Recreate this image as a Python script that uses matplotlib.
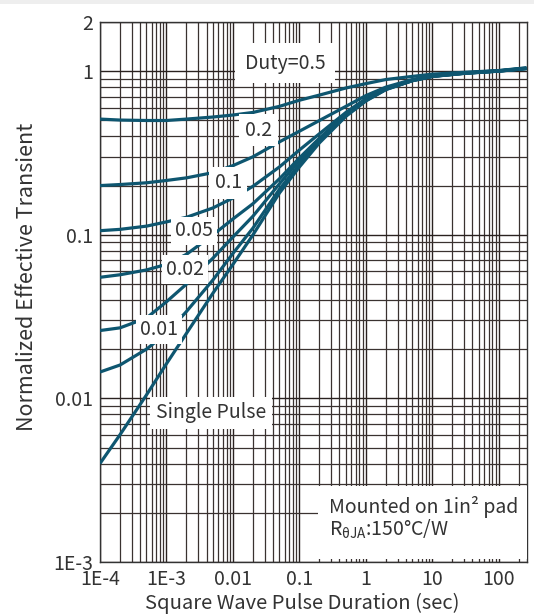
import matplotlib
matplotlib.use("Agg")
import matplotlib.pyplot as plt
from matplotlib.patches import Rectangle

plt.rcParams['font.family'] = ['Noto Sans CJK SC', 'DejaVu Sans']
plt.rcParams['mathtext.fontset'] = 'custom'
plt.rcParams['mathtext.rm'] = 'Noto Sans CJK SC'

# ---- data ----
pulse_time = [1e-4, 2e-4, 5e-4, 1e-3, 2e-3, 5e-3, 0.01, 0.02, 0.05, 0.1,
              0.2, 0.5, 1, 2, 5, 10, 30, 100, 260]

duty_05 = [0.51, 0.503, 0.50, 0.50, 0.51, 0.525, 0.54, 0.56, 0.61, 0.665,
           0.715, 0.79, 0.84, 0.89, 0.93, 0.96, 0.985, 1.01, 1.05]
duty_02 = [0.200, 0.203, 0.208, 0.215, 0.223, 0.240, 0.265, 0.30, 0.37, 0.43,
           0.50, 0.61, 0.71, 0.80, 0.89, 0.94, 0.978, 1.007, 1.046]
duty_01 = [0.106, 0.108, 0.113, 0.120, 0.128, 0.146, 0.168, 0.198, 0.26, 0.33,
           0.415, 0.56, 0.68, 0.785, 0.882, 0.935, 0.975, 1.005, 1.043]
duty_005 = [0.055, 0.057, 0.061, 0.066, 0.076, 0.100, 0.125, 0.155, 0.22, 0.295,
            0.39, 0.545, 0.67, 0.78, 0.878, 0.932, 0.973, 1.004, 1.041]
duty_002 = [0.026, 0.027, 0.031, 0.039, 0.050, 0.072, 0.097, 0.13, 0.205, 0.285,
            0.38, 0.54, 0.665, 0.777, 0.877, 0.931, 0.972, 1.003, 1.04]
duty_001 = [0.0145, 0.016, 0.020, 0.025, 0.034, 0.053, 0.077, 0.11, 0.19, 0.27,
            0.372, 0.535, 0.662, 0.775, 0.876, 0.93, 0.971, 1.002, 1.039]
single = [0.0040, 0.0060, 0.0105, 0.0163, 0.025, 0.044, 0.066, 0.10, 0.18, 0.26,
          0.365, 0.53, 0.658, 0.772, 0.875, 0.929, 0.97, 1.001, 1.038]

series = [duty_05, duty_02, duty_01, duty_005, duty_002, duty_001, single]

x_ticks = [1e-4, 1e-3, 0.01, 0.1, 1, 10, 100]
x_ticklabels = ['1E-4', '1E-3', '0.01', '0.1', '1', '10', '100']
y_ticks = [1e-3, 0.01, 0.1, 1, 2]
y_ticklabels = ['1E-3', '0.01', '0.1', '1', '2']

curve_labels = ['Duty=0.5', '0.2', '0.1', '0.05', '0.02', '0.01', 'Single Pulse']

# ---- figure ----
W, H = 534, 616
fig = plt.figure(figsize=(W / 100, H / 100), dpi=100)
fig.patches.append(Rectangle((0, 1 - 4 / H), 1, 4 / H, transform=fig.transFigure,
                             facecolor='#eeeeee', edgecolor='none'))
ax = fig.add_axes([100 / W, 1 - 562 / H, 427 / W, 540 / H])
ax.set_xscale('log')
ax.set_yscale('log')
ax.set_xlim(1e-4, 265)
ax.set_ylim(1e-3, 2)

ax.grid(True, which='major', color='#2a2220', linewidth=1.0)
ax.grid(True, which='minor', color='#3a3230', linewidth=0.9)
ax.set_axisbelow(True)

line_color = '#0e5670'
for s in series:
    ax.plot(pulse_time, s, color=line_color, linewidth=2.3, solid_capstyle='butt', zorder=3)

ax.set_xticks(x_ticks)
ax.set_xticklabels(x_ticklabels)
ax.set_yticks(y_ticks)
ax.set_yticklabels(y_ticklabels)
ax.minorticks_on()
ax.tick_params(which='both', length=0, labelsize=14, colors='#333333')
ax.tick_params(axis='x', pad=5)
ax.tick_params(axis='y', pad=5)
for lab in ax.get_xticklabels() + ax.get_yticklabels():
    lab.set_fontweight('light')
for sp in ax.spines.values():
    sp.set_color('#333333')
    sp.set_linewidth(1.0)

ax.set_xlabel('Square Wave Pulse Duration (sec)', fontsize=14.5, color='#333333',
              fontweight='light')
ax.set_ylabel('Normalized Effective Transient', fontsize=15.5, color='#333333',
              fontweight='light')
ax.xaxis.set_label_coords(0.473, -0.057)
ax.yaxis.set_label_coords(-0.145, 0.528)

# labels on curves (axes-fraction positions)
label_pos = [(0.433, 0.924), (0.372, 0.800), (0.300, 0.702), (0.220, 0.613),
             (0.199, 0.541), (0.138, 0.431), (0.260, 0.276)]
label_pad = [0.5, 0.3, 0.3, 0.2, 0.2, 0.2, 0.3]
for txt, (px, py), pd in zip(curve_labels, label_pos, label_pad):
    ax.text(px, py, txt, transform=ax.transAxes, ha='center', va='center',
            fontsize=14, color='#333333', fontweight='light', zorder=5,
            bbox=dict(boxstyle='square,pad=%g' % pd, facecolor='white', edgecolor='none'))

# mounting note
ax.add_patch(Rectangle((0.51, 0.005), 0.49, 0.135, transform=ax.transAxes,
                       facecolor='white', edgecolor='none', zorder=4))
ax.text(0.537, 0.101, 'Mounted on 1in² pad', transform=ax.transAxes, ha='left',
        va='center', fontsize=14, color='#333333', fontweight='light', zorder=5)
ax.text(0.537, 0.060, r'R$_{\mathrm{θJA}}$:150°C/W', transform=ax.transAxes, ha='left',
        va='center', fontsize=14, color='#333333', fontweight='light', zorder=5)

fig.savefig('out.png', dpi=100)
